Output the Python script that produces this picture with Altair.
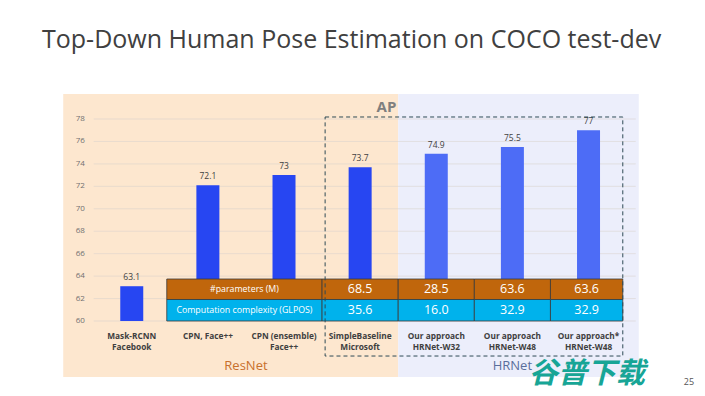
import altair as alt
import pandas as pd

# ---- data ----
categories = ["Mask-RCNN\nFacebook", "CPN, Face++", "CPN (ensemble)\nFace++",
              "SimpleBaseline\nMicrosoft", "Our approach\nHRNet-W32",
              "Our approach\nHRNet-W48", "Our approach*\nHRNet-W48"]
ap_values = [63.1, 72.1, 73, 73.7, 74.9, 75.5, 77]
ap_labels = ["63.1", "72.1", "73", "73.7", "74.9", "75.5", "77"]
backbones = ["ResNet", "ResNet", "ResNet", "ResNet", "HRNet", "HRNet", "HRNet"]
table_categories = [3, 4, 5, 6]          # indices of the compared methods
params_m = [68.5, 28.5, 63.6, 63.6]
gflops = [35.6, 16.0, 32.9, 32.9]
y_ticks = [60, 62, 64, 66, 68, 70, 72, 74, 76, 78]

W, H = 689, 380
FONT = "Open Sans"
X = alt.Scale(domain=[-1.5599, 7.3592], nice=False, zero=False)
Y = alt.Scale(domain=[54.030, 87.892], nice=False, zero=False)

def xq(f):
    return alt.X(f, type="quantitative", scale=X, axis=None)

def yq(f):
    return alt.Y(f, type="quantitative", scale=Y, axis=None)

idx = list(range(len(categories)))
bars = pd.DataFrame({
    "i": idx, "cat": categories, "ap": ap_values, "lab": ap_labels,
    "base": [60] * len(idx),
    "col": ["#2746F2" if b == "ResNet" else "#4D6CF6" for b in backbones],
})

panels = pd.DataFrame({
    "x0": [-0.90, 3.5], "x1": [3.5, 6.66],
    "y0": [55.01, 55.01], "y1": [80.23, 80.23],
    "fill": ["#FDE7CF", "#ECEEFB"],
})

grid = pd.DataFrame({"t": y_ticks, "x0": -0.5, "x1": 6.62,
                     "lx": -0.615, "lab": [str(t) for t in y_ticks]})

groups = pd.DataFrame({"g": ["ResNet", "HRNet"]})
groups["x"] = [sum(i for i, b in zip(idx, backbones) if b == g) /
               backbones.count(g) for g in groups["g"]]
groups["y"] = 55.99
groups["col"] = ["#C8702C", "#5A6E9C"]

# table cells
cells = []
for row, (name, vals, fill, ymid, y0, y1) in enumerate([
        ("#parameters (M)", params_m, "#C0660C", 62.83, 61.916, 63.743),
        ("Computation complexity (GLPOS)", gflops, "#00B2EC", 60.958, 60.0, 61.916)]):
    cells.append({"x0": 0.46, "x1": 2.5, "y0": y0, "y1": y1, "fill": fill,
                  "xm": 1.48, "ym": ymid, "txt": name, "kind": "label"})
    for c, v in zip(table_categories, vals):
        cells.append({"x0": c - 0.5, "x1": min(c + 0.5, 6.45), "y0": y0, "y1": y1,
                      "fill": fill, "xm": (c - 0.5 + min(c + 0.5, 6.45)) / 2,
                      "ym": ymid, "txt": f"{v:.1f}", "kind": "value"})
cells = pd.DataFrame(cells)

box = pd.DataFrame({"x0": [2.54], "x1": [6.45], "y0": [56.88], "y1": [78.18]})

# ---- layers ----
bg = alt.Chart(panels).mark_rect().encode(
    x=xq("x0"), x2="x1", y=yq("y0"), y2="y1",
    color=alt.Color("fill:N", scale=None))

gridlines = alt.Chart(grid).mark_rule(color="#D9D2CC", strokeWidth=0.7, opacity=0.8).encode(
    x=xq("x0"), x2="x1", y=yq("t"))

ticklabels = alt.Chart(grid).mark_text(align="right", baseline="middle", font=FONT,
                                       fontSize=8, color="#707070").encode(
    x=xq("lx"), y=yq("t"), text="lab:N")

barlayer = alt.Chart(bars).mark_bar(size=23).encode(
    x=xq("i"), y=yq("ap"), y2="base",
    color=alt.Color("col:N", scale=None))

barlabels = alt.Chart(bars).mark_text(baseline="bottom", dy=-4, font=FONT,
                                      fontSize=8.5, color="#404040").encode(
    x=xq("i"), y=yq("ap"), text="lab:N")

catlabels = alt.Chart(bars).mark_text(baseline="top", lineBreak="\n", lineHeight=11,
                                      font=FONT, fontSize=8.3, fontWeight="bold",
                                      color="#404040").encode(
    x=xq("i"), y=alt.Y("y:Q", scale=Y, axis=None), text="cat:N"
).transform_calculate(y="59.05")

grouplabels = alt.Chart(groups).mark_text(font=FONT, fontSize=13, baseline="middle").encode(
    x=xq("x"), y=yq("y"), text="g:N", color=alt.Color("col:N", scale=None))

tablerects = alt.Chart(cells).mark_rect(stroke="#3A3A3A", strokeWidth=0.8).encode(
    x=xq("x0"), x2="x1", y=yq("y0"), y2="y1",
    color=alt.Color("fill:N", scale=None))

tablelab = alt.Chart(cells).transform_filter("datum.kind == 'label'").mark_text(
    font=FONT, fontSize=8.8, color="white", baseline="middle").encode(
    x=xq("xm"), y=yq("ym"), text="txt:N")

tableval = alt.Chart(cells).transform_filter("datum.kind == 'value'").mark_text(
    font=FONT, fontSize=12.5, color="white", baseline="middle").encode(
    x=xq("xm"), y=yq("ym"), text="txt:N")

dashbox = alt.Chart(box).mark_rect(fillOpacity=0, stroke="#2E4A55", strokeWidth=1,
                                   strokeDash=[4, 3]).encode(
    x=xq("x0"), x2="x1", y=yq("y0"), y2="y1")

def label(txt, x, y, **kw):
    return alt.Chart(pd.DataFrame({"t": [txt]})).mark_text(**kw).encode(
        x=alt.value(x), y=alt.value(y), text="t:N")

title = label("Top-Down Human Pose Estimation on COCO test-dev", 34, 32,
              align="left", baseline="middle", font=FONT, fontSize=25, color="#404040")
ap_txt = label("AP", 378.5, 99, align="center", baseline="middle", font=FONT,
               fontSize=15, fontWeight="bold", color="#7F7F7F")
page = label("25", 681, 374, align="center", baseline="middle", font=FONT,
             fontSize=9, color="#555555")
mark_wm = label("谷普下载", 579, 366, align="center", baseline="middle",
                font="Noto Sans CJK SC", fontSize=29, fontWeight="bold",
                fontStyle="italic", color="#17A596")

chart = alt.layer(
    bg, gridlines, ticklabels, barlayer, barlabels, catlabels, grouplabels,
    tablerects, tablelab, tableval, dashbox, title, ap_txt, page, mark_wm
).properties(
    width=W, height=H, padding=0,
    autosize=alt.AutoSizeParams(type="none"),
    background="white"
).configure_view(stroke=None)

chart.save("out.html", embed_options={"renderer": "svg", "actions": False})
